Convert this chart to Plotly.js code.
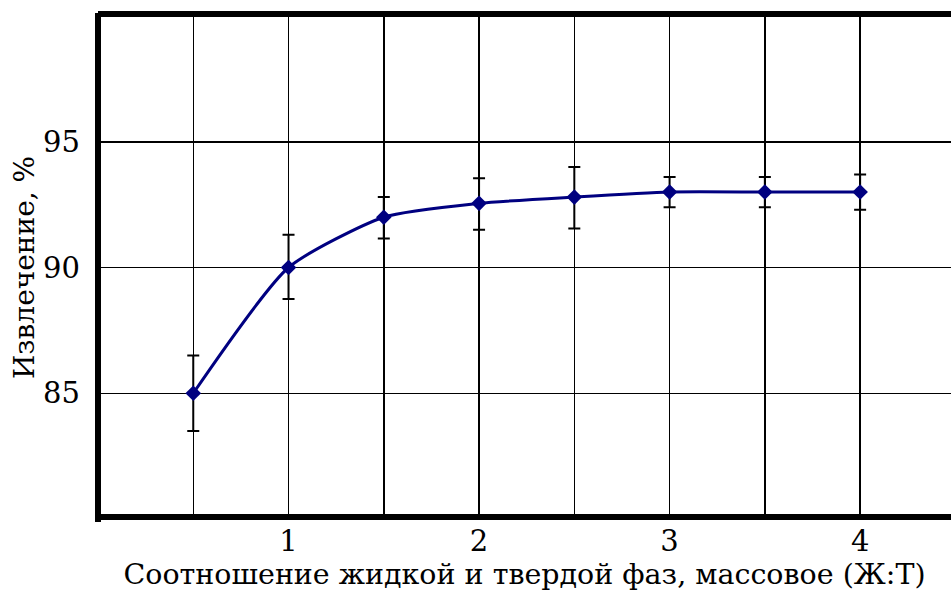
<!DOCTYPE html>
<html>
<head>
<meta charset="utf-8">
<script src="https://cdn.plot.ly/plotly-3.0.1.min.js"></script>
<style>html,body{margin:0;padding:0;background:#fff;}#chart{width:951px;height:597px;}</style>
</head>
<body>
<div id="chart"></div>
<script>
const ratio = [0.5, 1, 1.5, 2, 2.5, 3, 3.5, 4];
const extraction = [85, 90, 92, 92.55, 92.8, 93, 93, 93];
const errPlus = [1.5, 1.3, 0.8, 1.0, 1.2, 0.6, 0.6, 0.7];
const errMinus = [1.5, 1.25, 0.85, 1.05, 1.25, 0.6, 0.6, 0.7];
const xTickVals = [0.5, 1, 1.5, 2, 2.5, 3, 3.5, 4];
const xTickText = ["", "1", "", "2", "", "3", "", "4"];
const yTickVals = [85, 90, 95];
const yTickText = ["85", "90", "95"];

const serif = "DejaVu Serif";

const trace = {
  x: ratio, y: extraction, type: "scatter", mode: "lines+markers",
  line: {color: "#000080", width: 3, shape: "spline", smoothing: 0.6},
  marker: {symbol: "diamond", size: 12, color: "#000080"},
  error_y: {type: "data", symmetric: false, array: errPlus, arrayminus: errMinus,
            color: "#000000", thickness: 2, width: 6},
  showlegend: false, hoverinfo: "x+y"
};

const layout = {
  width: 951, height: 597,
  margin: {l: 98, r: 0, t: 16, b: 78},
  paper_bgcolor: "#ffffff", plot_bgcolor: "#ffffff",
  font: {family: serif, color: "#000000"},
  xaxis: {
    range: [0, 4.477], tickmode: "array", tickvals: xTickVals, ticktext: xTickText,
    showgrid: true, gridcolor: "#000000", gridwidth: 1.5, zeroline: false,
    showline: false, ticks: "", tickfont: {size: 29, family: serif},
    ticklabelstandoff: 2,
    title: {text: "Соотношение жидкой и твердой фаз, массовое (Ж:Т)", font: {size: 28.5, family: serif}, standoff: 6},
    automargin: false, fixedrange: true
  },
  yaxis: {
    range: [80, 100], tickmode: "array", tickvals: yTickVals, ticktext: yTickText,
    showgrid: true, gridcolor: "#000000", gridwidth: 1.5, zeroline: false,
    showline: false, ticks: "", tickfont: {size: 29, family: serif},
    ticklabelstandoff: 17,
    title: {text: "Извлечение, %", font: {size: 28, family: serif}, standoff: 0},
    automargin: false, fixedrange: true
  },
  shapes: [
    {type: "line", xref: "paper", yref: "paper", x0: 0, x1: 0, y0: -0.006, y1: 1.006, line: {color: "#000", width: 6}},
    {type: "line", xref: "paper", yref: "paper", x0: 0, x1: 1, y0: 1.004, y1: 1.004, line: {color: "#000", width: 6}},
    {type: "line", xref: "paper", yref: "paper", x0: 0, x1: 1, y0: 0.004, y1: 0.004, line: {color: "#000", width: 6}}
  ]
};

Plotly.newPlot("chart", [trace], layout, {displayModeBar: false, staticPlot: true});
</script>
</body>
</html>
